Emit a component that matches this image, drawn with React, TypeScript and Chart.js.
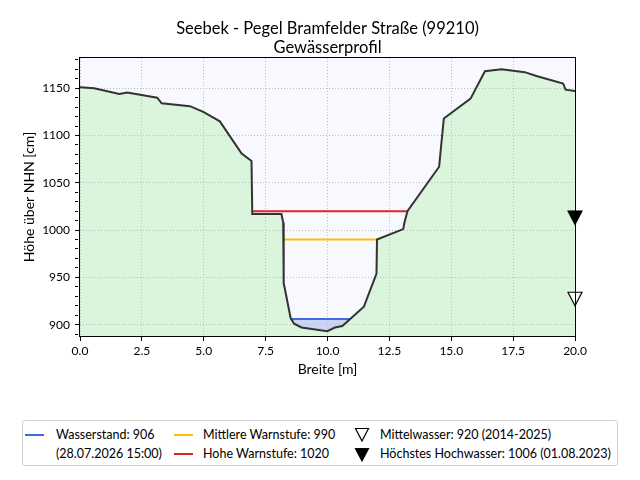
import { useEffect, useRef } from "react";
import { Chart, registerables } from "chart.js";

Chart.register(...registerables);

const FONT = "Lato, 'Open Sans', sans-serif";

const titleLines = ["Seebek - Pegel Bramfelder Straße (99210)", "Gewässerprofil"];
const xTitle = "Breite [m]";
const yTitle = "Höhe über NHN [cm]";

// Cross-section: width [m] and bed height [cm above NHN]
const profileX = [0, 0.57, 1.59, 1.91, 3.12, 3.3, 4.44, 4.98, 5.65, 6.53, 6.93, 6.96, 8.14, 8.21, 8.23, 8.51, 8.65, 8.95, 9.99, 10.3, 10.6, 11.47, 11.98, 12.0, 13.06, 13.1, 13.23, 14.51, 14.7, 15.78, 16.36, 17.03, 17.97, 18.44, 19.52, 19.62, 20.03];
const profileY = [1151, 1150, 1144, 1145.5, 1140, 1134, 1131, 1125, 1115, 1081, 1073, 1017, 1017, 1008, 944, 907, 901, 897, 893, 897, 898.6, 919, 954, 990, 1001, 1007, 1020, 1067, 1118, 1139, 1168, 1170, 1167, 1163, 1155, 1148.5, 1147];

// Gauge levels [cm]
const waterLevel = 906;
const waterTime = "28.07.2026 15:00";
const warnMedium = 990;
const warnHigh = 1020;
const meanWater = 920;
const meanWaterPeriod = "2014-2025";
const highestFlood = 1006;
const highestFloodDate = "01.08.2023";

// Axis ranges
const xMin = 0;
const xMax = 20;
const xStep = 2.5;
const yMin = 888;
const yMax = 1182;
const yMajor = 50;
const yMinor = 10;

const C = {
  plotBg: "#f8f8ff",
  ground: "#dbf5dd",
  groundLine: "#333333",
  waterFill: "rgba(65,105,225,0.25)",
  water: "#4169e1",
  warnMedium: "#ffbf00",
  warnHigh: "#dc2626",
  grid: "#bdbdbd",
};

const labelWater = `Wasserstand: ${waterLevel}`;
const labelWaterTime = `(${waterTime})`;
const labelMedium = `Mittlere Warnstufe: ${warnMedium}`;
const labelHigh = `Hohe Warnstufe: ${warnHigh}`;
const labelMean = `Mittelwasser: ${meanWater} (${meanWaterPeriod})`;
const labelFlood = `Höchstes Hochwasser: ${highestFlood} (${highestFloodDate})`;

// Left/right edge of a horizontal level inside the channel, interpolated on the profile
function levelSpan(level: number): [number, number] {
  let bottom = 0;
  for (let i = 1; i < profileY.length; i++) if (profileY[i] < profileY[bottom]) bottom = i;
  const cross = (a: number, b: number) =>
    profileX[a] + ((level - profileY[a]) / (profileY[b] - profileY[a])) * (profileX[b] - profileX[a]);
  let l = bottom;
  while (l > 0 && profileY[l - 1] < level) l--;
  const left = l > 0 ? cross(l - 1, l) : profileX[0];
  let r = bottom;
  while (r < profileY.length - 1 && profileY[r + 1] < level) r++;
  const right = r < profileY.length - 1 ? cross(r, r + 1) : profileX[profileX.length - 1];
  return [left, right];
}

function levelLine(level: number) {
  const [a, b] = levelSpan(level);
  return [
    { x: a, y: level },
    { x: b, y: level },
  ];
}

function waterBody(level: number) {
  const [a, b] = levelSpan(level);
  const pts = [{ x: a, y: level }];
  for (let i = 0; i < profileX.length; i++) {
    if (profileX[i] > a && profileX[i] < b) pts.push({ x: profileX[i], y: profileY[i] });
  }
  pts.push({ x: b, y: level });
  return pts;
}

// Downward triangle whose tip sits at the image centre
function triangleMarker(fill: string): HTMLCanvasElement {
  const c = document.createElement("canvas");
  c.width = 16;
  c.height = 30;
  const g = c.getContext("2d")!;
  g.beginPath();
  g.moveTo(1, 1.5);
  g.lineTo(15, 1.5);
  g.lineTo(8, 15);
  g.closePath();
  g.fillStyle = fill;
  g.fill();
  g.lineWidth = 1.2;
  g.strokeStyle = "#000";
  g.lineJoin = "miter";
  g.stroke();
  return c;
}

const align = (p: number) => Math.round(p - 0.5) + 0.5;

// Plot background, dotted grid over the fills, and the axes frame
const framePlugin = {
  id: "plotFrame",
  beforeDraw(chart: any) {
    const { ctx, chartArea } = chart;
    ctx.save();
    ctx.fillStyle = C.plotBg;
    ctx.fillRect(chartArea.left, chartArea.top, chartArea.width, chartArea.height);
    ctx.restore();
  },
  beforeDatasetsDraw(chart: any) {
    const { ctx, chartArea: a, scales } = chart;
    const xs = scales.x;
    const ys = scales.y;
    ctx.save();
    ctx.strokeStyle = C.grid;
    ctx.lineWidth = 1;
    ctx.setLineDash([1, 2]);
    ctx.beginPath();
    for (const t of xs.ticks) {
      const px = align(xs.getPixelForValue(t.value));
      ctx.moveTo(px, a.top);
      ctx.lineTo(px, a.bottom);
    }
    for (const t of ys.ticks) {
      if (t.value % yMajor !== 0) continue;
      const py = align(ys.getPixelForValue(t.value));
      ctx.moveTo(a.left, py);
      ctx.lineTo(a.right, py);
    }
    ctx.stroke();
    ctx.restore();
  },
  afterDraw(chart: any) {
    const { ctx, chartArea } = chart;
    ctx.save();
    ctx.strokeStyle = "#000";
    ctx.lineWidth = 1;
    ctx.strokeRect(
      Math.round(chartArea.left) - 0.5,
      Math.round(chartArea.top) - 0.5,
      Math.round(chartArea.width) + 1,
      Math.round(chartArea.height) + 1
    );
    ctx.restore();
  },
};

function ProfileChart() {
  const ref = useRef<HTMLCanvasElement>(null);

  useEffect(() => {
    if (!ref.current) return;
    const profile = profileX.map((x, i) => ({ x, y: profileY[i] }));

    const chart = new Chart(ref.current, {
      type: "line",
      data: {
        datasets: [
          {
            label: labelFlood,
            data: [{ x: xMax, y: highestFlood }],
            showLine: false,
            pointStyle: triangleMarker("#000"),
            pointRadius: 8,
            clip: false,
            order: 0,
          } as any,
          {
            label: labelMean,
            data: [{ x: xMax, y: meanWater }],
            showLine: false,
            pointStyle: triangleMarker("#fff"),
            pointRadius: 8,
            clip: false,
            order: 0,
          },
          {
            label: "Profil",
            data: profile,
            borderColor: C.groundLine,
            borderWidth: 2,
            backgroundColor: C.ground,
            fill: "start",
            pointRadius: 0,
            order: 1,
          },
          {
            label: labelHigh,
            data: levelLine(warnHigh),
            borderColor: C.warnHigh,
            borderWidth: 2,
            pointRadius: 0,
            order: 2,
          },
          {
            label: labelMedium,
            data: levelLine(warnMedium),
            borderColor: C.warnMedium,
            borderWidth: 2,
            pointRadius: 0,
            order: 2,
          },
          {
            label: labelWater,
            data: levelLine(waterLevel),
            borderColor: C.water,
            borderWidth: 2,
            pointRadius: 0,
            order: 2,
          },
          {
            label: "Wasserkörper",
            data: waterBody(waterLevel),
            borderWidth: 0,
            borderColor: "rgba(0,0,0,0)",
            backgroundColor: C.waterFill,
            fill: { value: waterLevel },
            pointRadius: 0,
            order: 3,
          },
        ],
      },
      options: {
        responsive: false,
        animation: false,
        events: [],
        layout: { padding: { left: 0, right: 65, top: 0, bottom: 99 } },
        plugins: {
          legend: { display: false },
          tooltip: { enabled: false },
          filler: { drawTime: "beforeDatasetsDraw" },
          title: {
            display: true,
            text: titleLines,
            fullSize: false,
            color: "#000",
            font: { family: FONT, size: 16.5, weight: "normal", lineHeight: 1.15 },
            padding: { top: 19, bottom: 1 },
          },
        } as any,
        scales: {
          x: {
            type: "linear",
            min: xMin,
            max: xMax,
            afterFit: (s: any) => {
              s.height = 45;
            },
            ticks: {
              stepSize: xStep,
              autoSkip: false,
              maxRotation: 0,
              padding: 3,
              color: "#000",
              font: { family: FONT, size: 12 },
              callback: (v: any) => Number(v).toFixed(1),
            },
            grid: {
              drawOnChartArea: false,
              drawTicks: true,
              tickLength: 5,
              tickColor: "#000",
              tickWidth: 1,
            },
            border: { display: false },
            title: {
              display: true,
              text: xTitle,
              color: "#000",
              font: { family: FONT, size: 14 },
              padding: { top: 0, bottom: 3 },
            },
          },
          y: {
            type: "linear",
            min: yMin,
            max: yMax,
            afterFit: (s: any) => {
              s.width = 80;
            },
            ticks: {
              stepSize: yMinor,
              autoSkip: false,
              includeBounds: false,
              padding: 5,
              color: "#000",
              font: { family: FONT, size: 12 },
              callback: (v: any) => (Number(v) % yMajor === 0 ? String(v) : ""),
            },
            grid: {
              drawOnChartArea: false,
              drawTicks: true,
              tickLength: 5,
              tickColor: "#000",
              tickWidth: 1,
              tickBorderDash: (ctx: any) => (ctx.tick && ctx.tick.value % yMajor === 0 ? [] : [3, 30]),
            },
            border: { display: false },
            title: {
              display: true,
              text: yTitle,
              color: "#000",
              font: { family: FONT, size: 14 },
              padding: { top: 21, bottom: 0 },
            },
          },
        },
      },
      plugins: [framePlugin],
    });
    return () => chart.destroy();
  }, []);

  return <canvas ref={ref} width={640} height={480} style={{ display: "block", width: 640, height: 480 }} />;
}

function Tri({ filled, left, top }: { filled: boolean; left: number; top: number }) {
  return (
    <svg width={16} height={15} style={{ position: "absolute", left, top }}>
      <polygon points="1.5,1.5 14.5,1.5 8,14" fill={filled ? "#000" : "#fff"} stroke="#000" strokeWidth={1.2} />
    </svg>
  );
}

function Swatch({ color, left, top }: { color: string; left: number; top: number }) {
  return <div style={{ position: "absolute", left, top, width: 19, height: 2, background: color }} />;
}

function Legend() {
  const row1 = 433.7;
  const row2 = 452.5;
  const text = (s: string, left: number, center: number) => (
    <span
      style={{
        position: "absolute",
        left,
        top: center - 9,
        height: 18,
        lineHeight: "18px",
        fontFamily: FONT,
        fontSize: 12.5,
        color: "#000",
        whiteSpace: "nowrap",
      }}
    >
      {s}
    </span>
  );
  return (
    <div
      style={{
        position: "absolute",
        left: 22,
        top: 420,
        width: 596,
        height: 46,
        boxSizing: "border-box",
        border: "1px solid #d0d0d0",
        borderRadius: 3,
        background: "#fff",
      }}
    >
      <div style={{ position: "absolute", left: -22, top: -420 }}>
        <Swatch color={C.water} left={24} top={row1 - 1} />
        {text(labelWater, 55, row1)}
        {text(labelWaterTime, 55, row2)}
        <Swatch color={C.warnMedium} left={173} top={row1 - 1} />
        {text(labelMedium, 202, row1)}
        <Swatch color={C.warnHigh} left={173} top={row2 - 1} />
        {text(labelHigh, 202, row2)}
        <Tri filled={false} left={353} top={row1 - 8} />
        {text(labelMean, 379, row1)}
        <Tri filled={true} left={353} top={row2 - 7} />
        {text(labelFlood, 379, row2)}
      </div>
    </div>
  );
}

export default function App() {
  useEffect(() => {
    document.body.style.margin = "0";
  }, []);
  return (
    <div style={{ position: "relative", width: 640, height: 480, background: "#fff" }}>
      <ProfileChart />
      <Legend />
    </div>
  );
}
